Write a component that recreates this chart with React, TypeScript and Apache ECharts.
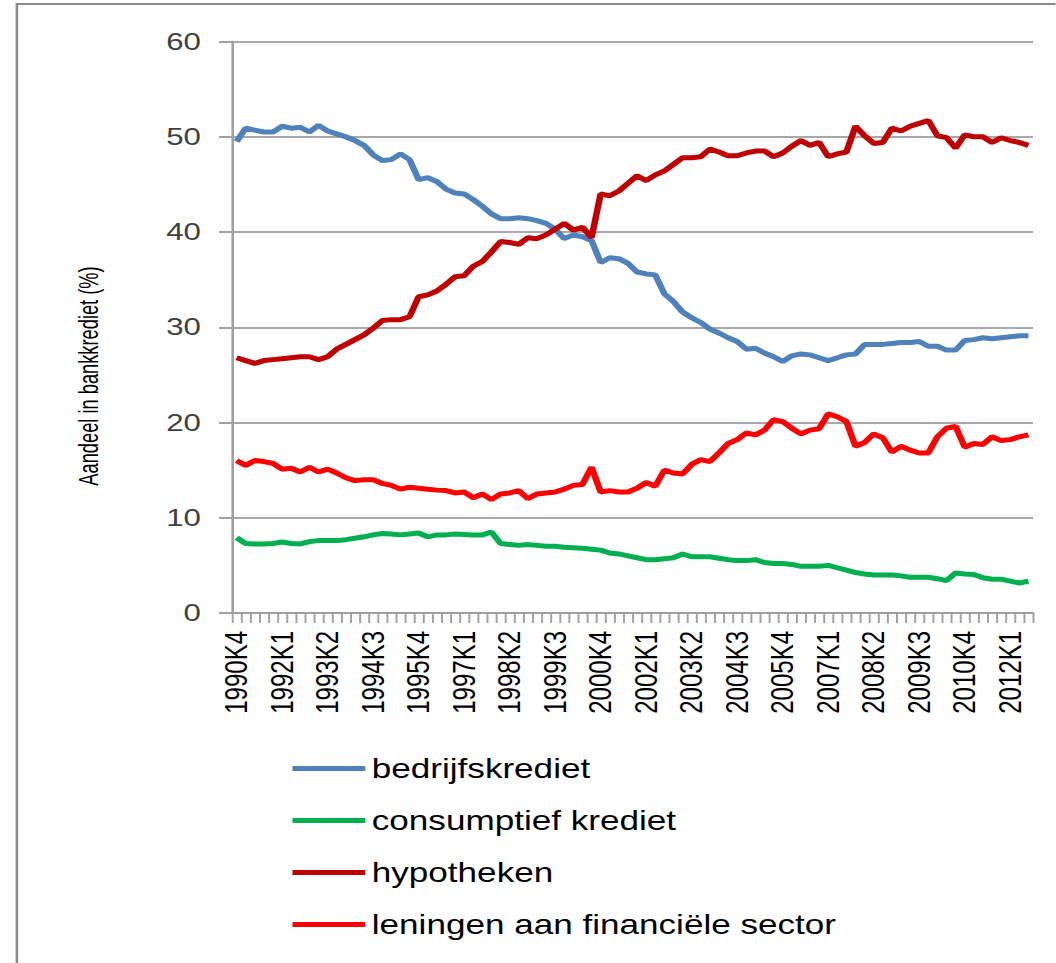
import React, { useEffect, useRef } from "react";
import * as echarts from "echarts";

const categories = [
  "1990K4",
  "1991K1", "1991K2", "1991K3", "1991K4",
  "1992K1", "1992K2", "1992K3", "1992K4",
  "1993K1", "1993K2", "1993K3", "1993K4",
  "1994K1", "1994K2", "1994K3", "1994K4",
  "1995K1", "1995K2", "1995K3", "1995K4",
  "1996K1", "1996K2", "1996K3", "1996K4",
  "1997K1", "1997K2", "1997K3", "1997K4",
  "1998K1", "1998K2", "1998K3", "1998K4",
  "1999K1", "1999K2", "1999K3", "1999K4",
  "2000K1", "2000K2", "2000K3", "2000K4",
  "2001K1", "2001K2", "2001K3", "2001K4",
  "2002K1", "2002K2", "2002K3", "2002K4",
  "2003K1", "2003K2", "2003K3", "2003K4",
  "2004K1", "2004K2", "2004K3", "2004K4",
  "2005K1", "2005K2", "2005K3", "2005K4",
  "2006K1", "2006K2", "2006K3", "2006K4",
  "2007K1", "2007K2", "2007K3", "2007K4",
  "2008K1", "2008K2", "2008K3", "2008K4",
  "2009K1", "2009K2", "2009K3", "2009K4",
  "2010K1", "2010K2", "2010K3", "2010K4",
  "2011K1", "2011K2", "2011K3", "2011K4",
  "2012K1", "2012K2", "2012K3",
];

const bedrijfskrediet = [
  49.5, 50.9, 50.7, 50.5, 50.5, 51.1, 50.9, 51.0, 50.5, 51.2,
  50.6, 50.3, 50.0, 49.6, 49.1, 48.1, 47.5, 47.6, 48.2, 47.6,
  45.5, 45.7, 45.3, 44.5, 44.1, 44.0, 43.4, 42.7, 41.9, 41.4,
  41.4, 41.5, 41.4, 41.2, 40.9, 40.3, 39.3, 39.7, 39.5, 39.1,
  36.8, 37.3, 37.2, 36.7, 35.8, 35.6, 35.5, 33.5, 32.7, 31.6,
  31.0, 30.5, 29.8, 29.4, 28.9, 28.5, 27.7, 27.8, 27.3, 26.9,
  26.4, 27.0, 27.2, 27.1, 26.8, 26.5, 26.8, 27.1, 27.2, 28.2,
  28.2, 28.2, 28.3, 28.4, 28.4, 28.5, 28.0, 28.0, 27.6, 27.6,
  28.6, 28.7, 28.9, 28.8, 28.9, 29.0, 29.1, 29.1,
];

const consumptiefKrediet = [
  7.9, 7.3, 7.25, 7.25, 7.3, 7.45, 7.3, 7.25, 7.5, 7.6,
  7.6, 7.6, 7.7, 7.85, 8.0, 8.2, 8.35, 8.3, 8.2, 8.3,
  8.4, 8.0, 8.2, 8.2, 8.3, 8.25, 8.2, 8.2, 8.5, 7.3,
  7.2, 7.1, 7.2, 7.1, 7.0, 7.0, 6.9, 6.85, 6.8, 6.7,
  6.6, 6.3, 6.2, 6.0, 5.8, 5.6, 5.6, 5.7, 5.8, 6.2,
  5.9, 5.9, 5.9, 5.75, 5.6, 5.5, 5.5, 5.6, 5.3, 5.2,
  5.2, 5.1, 4.9, 4.9, 4.9, 5.0, 4.75, 4.5, 4.25, 4.1,
  4.0, 4.0, 4.0, 3.9, 3.75, 3.75, 3.75, 3.6, 3.4, 4.2,
  4.1, 4.05, 3.7, 3.55, 3.55, 3.35, 3.15, 3.35,
];

const hypotheken = [
  26.8, 26.5, 26.2, 26.5, 26.6, 26.7, 26.8, 26.9, 26.9, 26.6,
  26.9, 27.7, 28.2, 28.7, 29.2, 29.9, 30.7, 30.8, 30.8, 31.1,
  33.2, 33.4, 33.8, 34.5, 35.3, 35.4, 36.4, 36.9, 37.9, 39.0,
  38.9, 38.7, 39.4, 39.3, 39.7, 40.3, 40.9, 40.2, 40.5, 39.4,
  44.0, 43.8, 44.3, 45.1, 45.9, 45.4, 46.0, 46.4, 47.1, 47.8,
  47.8, 47.9, 48.7, 48.4, 48.0, 48.0, 48.3, 48.5, 48.5, 47.9,
  48.3, 49.0, 49.6, 49.1, 49.4, 47.9, 48.2, 48.4, 51.1, 50.1,
  49.3, 49.4, 50.9, 50.6, 51.1, 51.4, 51.7, 50.1, 49.9, 48.8,
  50.2, 50.0, 50.0, 49.4, 49.9, 49.6, 49.4, 49.1,
];

const leningenFinancieleSector = [
  16.0, 15.5, 16.0, 15.9, 15.7, 15.1, 15.2, 14.8, 15.3, 14.8,
  15.1, 14.7, 14.2, 13.9, 14.0, 14.0, 13.6, 13.4, 13.0, 13.2,
  13.1, 13.0, 12.9, 12.85, 12.6, 12.7, 12.1, 12.5, 11.9, 12.5,
  12.6, 12.85, 12.0, 12.5, 12.6, 12.7, 13.0, 13.4, 13.5, 15.3,
  12.7, 12.85, 12.7, 12.7, 13.1, 13.7, 13.3, 15.0, 14.7, 14.6,
  15.6, 16.1, 15.9, 16.8, 17.8, 18.2, 18.9, 18.7, 19.2, 20.3,
  20.1, 19.4, 18.8, 19.2, 19.35, 20.9, 20.6, 20.1, 17.5, 17.9,
  18.8, 18.4, 16.9, 17.5, 17.1, 16.8, 16.8, 18.5, 19.4, 19.6,
  17.4, 17.8, 17.7, 18.5, 18.1, 18.2, 18.5, 18.7,
];

const seriesNames = [
  "bedrijfskrediet",
  "consumptief krediet",
  "hypotheken",
  "leningen aan financiële sector",
];
const seriesColors = ["#4F81BD", "#00B050", "#C00000", "#FF0000"];
const yAxisTitle = "Aandeel in bankkrediet (%)";

const STRETCH = 1.3;
const W = 812;
const H = 963;
const FONT = "Liberation Sans";

export default function App() {
  const ref = useRef<HTMLDivElement>(null);

  useEffect(() => {
    if (!ref.current) return;
    const chart = echarts.init(ref.current, null, { renderer: "svg" });
    const seriesData = [bedrijfskrediet, consumptiefKrediet, hypotheken, leningenFinancieleSector];
    chart.setOption({
      animation: false,
      textStyle: { fontFamily: FONT },
      grid: { left: 178.5, right: 17.4, top: 41.5, bottom: 350, containLabel: false },
      xAxis: {
        type: "category",
        data: categories,
        boundaryGap: true,
        axisLine: { show: true, lineStyle: { color: "#a0a0a0", width: 2 } },
        axisTick: { show: true, interval: 0, length: 10, lineStyle: { color: "#a0a0a0", width: 1.5 } },
        axisLabel: { interval: 4, rotate: 90, fontSize: 24, margin: 18, color: "#000", fontFamily: FONT },
        splitLine: { show: false },
      },
      yAxis: {
        type: "value",
        min: 0,
        max: 60,
        interval: 10,
        axisLine: { show: true, lineStyle: { color: "#a0a0a0", width: 2 } },
        axisTick: { show: true, length: 10, lineStyle: { color: "#a0a0a0", width: 2 } },
        axisLabel: { fontSize: 24, margin: 24, color: "#404040", fontFamily: FONT },
        splitLine: { show: true, lineStyle: { color: "#a8a8a8", width: 2 } },
      },
      legend: {
        orient: "vertical",
        left: 225,
        top: 755,
        padding: 0,
        itemWidth: 56,
        itemHeight: 5,
        icon: "rect",
        itemGap: 25,
        textStyle: { fontSize: 27, color: "#000", fontFamily: FONT },
        data: seriesNames,
      },
      graphic: [
        {
          type: "rect",
          silent: true,
          shape: { x: 13, y: 4, width: 900, height: 1000 },
          style: { fill: "none", stroke: "#8c8c8c", lineWidth: 2 },
        },
        {
          type: "text",
          silent: true,
          x: 68.5,
          y: 376,
          rotation: Math.PI / 2,
          scaleX: 0.87,
          style: {
            text: yAxisTitle,
            font: `21px "${FONT}"`,
            fill: "#000",
            align: "center",
            verticalAlign: "middle",
            textAlign: "center",
            textVerticalAlign: "middle",
          },
        },
      ],
      series: seriesNames.map((name, i) => ({
        name,
        type: "line",
        data: seriesData[i],
        symbol: "none",
        color: seriesColors[i],
        lineStyle: { width: 5, color: seriesColors[i] },
      })),
    });
    return () => chart.dispose();
  }, []);

  return (
    <div
      ref={ref}
      style={{
        position: "absolute",
        left: 0,
        top: 0,
        width: W,
        height: H,
        transform: `scaleX(${STRETCH})`,
        transformOrigin: "0 0",
        background: "#fff",
      }}
    />
  );
}
